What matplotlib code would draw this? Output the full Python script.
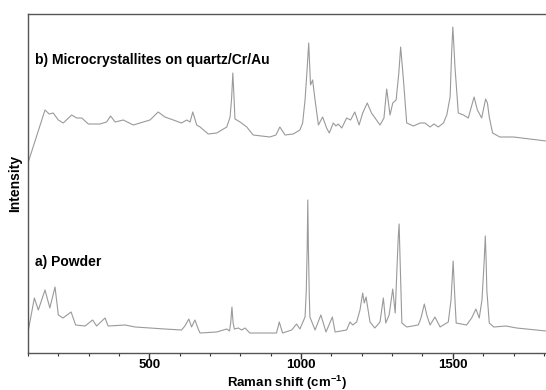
import matplotlib
matplotlib.use("Agg")
import matplotlib.pyplot as plt
from matplotlib.ticker import MultipleLocator

plt.rcParams['font.family'] = ['Liberation Sans', 'DejaVu Sans']
plt.rcParams['mathtext.fontset'] = 'custom'
plt.rcParams['mathtext.bf'] = 'Liberation Sans:bold'
plt.rcParams['mathtext.rm'] = 'Liberation Sans:bold'
plt.rcParams['mathtext.default'] = 'bf'

# a) powder spectrum (Raman shift in cm-1, intensity in arbitrary units)
powder_shift = [100, 121, 134, 156, 172, 189, 200, 215, 242, 257, 288, 313, 326, 354, 364,
                420, 453, 551, 606, 617, 630, 639, 650, 661, 667, 722, 755, 764, 768, 772,
                776, 780, 793, 804, 815, 831, 859, 919, 928, 939, 969, 985, 996, 1013,
                1017, 1020, 1022, 1024, 1027, 1029, 1046, 1065, 1082, 1103, 1112, 1150,
                1161, 1170, 1183, 1194, 1203, 1208, 1214, 1227, 1243, 1260, 1271, 1279,
                1290, 1302, 1310, 1317, 1320, 1323, 1326, 1329, 1332, 1348, 1386, 1395,
                1406, 1415, 1425, 1441, 1458, 1485, 1494, 1498, 1501, 1504, 1507, 1511,
                1545, 1562, 1576, 1587, 1596, 1603, 1607, 1610, 1612, 1620, 1635, 1675,
                1710, 1807]
powder_int = [21, 55, 43, 63, 45, 66, 38, 35, 41, 28, 27, 33, 27, 35, 27,
              28, 26, 24, 23, 27, 34, 26, 33, 24, 20, 21, 24, 22, 30, 46,
              30, 24, 25, 23, 25, 20, 20, 20, 31, 20, 23, 29, 24, 36,
              62, 105, 153, 105, 58, 36, 23, 38, 21, 36, 21, 23,
              31, 28, 31, 43, 60, 50, 56, 31, 25, 31, 55, 30,
              38, 64, 40, 93, 115, 129, 95, 63, 30, 26, 28, 35,
              49, 37, 28, 36, 26, 31, 53, 75, 92, 72, 53, 30,
              28, 35, 44, 35, 53, 90, 117, 90, 63, 30, 26, 27,
              25, 22]

# b) microcrystallites on quartz/Cr/Au
film_shift = [101, 156, 170, 183, 200, 216, 244, 260, 277, 299, 337, 359, 372, 387, 414,
              447, 469, 502, 529, 551, 579, 606, 623, 634, 643, 656, 667, 694, 722, 755,
              766, 771, 775, 779, 782, 799, 821, 842, 897, 917, 930, 947, 974, 996, 1005,
              1013, 1020, 1025, 1031, 1038, 1046, 1057, 1071, 1084, 1093, 1106, 1115,
              1122, 1134, 1150, 1163, 1177, 1191, 1203, 1218, 1232, 1260, 1273, 1282,
              1293, 1302, 1313, 1322, 1328, 1334, 1339, 1348, 1370, 1392, 1408, 1425,
              1438, 1452, 1469, 1480, 1491, 1496, 1500, 1503, 1507, 1518, 1535, 1551,
              1570, 1581, 1595, 1608, 1614, 1620, 1631, 1655, 1700, 1754, 1807]
film_int = [191, 243, 239, 240, 233, 230, 238, 235, 235, 229, 229, 231, 237, 231, 233,
            228, 230, 233, 241, 236, 233, 230, 233, 231, 241, 228, 226, 219, 220, 226,
            236, 255, 280, 255, 234, 231, 226, 218, 216, 218, 226, 218, 219, 223, 230,
            253, 285, 310, 268, 273, 253, 228, 236, 225, 220, 230, 227,
            229, 225, 235, 233, 241, 228, 240, 250, 240, 228, 235, 264,
            238, 250, 253, 280, 306, 285, 266, 230, 227, 230, 230, 226,
            229, 226, 230, 238, 256, 300, 326, 310, 286, 240, 238, 235,
            256, 243, 235, 254, 250, 236, 220, 216, 216, 214, 212]

fig = plt.figure(figsize=(5.46, 3.90), dpi=100)
ax = fig.add_axes([28 / 546, 37 / 390, 518 / 546, 339 / 390])

line_color = '#9a9a9a'
ax.plot(powder_shift, powder_int, color=line_color, lw=0.8)
ax.plot(film_shift, film_int, color=line_color, lw=0.8)

ax.set_xlim(100, 1807)
ax.set_ylim(0, 339)

ax.text(122, 293, 'b) Microcrystallites on quartz/Cr/Au', fontsize=10, fontweight='bold',
        va='center', ha='left')
ax.text(122, 91, 'a) Powder', fontsize=10, fontweight='bold', va='center', ha='left')

ax.xaxis.set_major_locator(MultipleLocator(500))
ax.xaxis.set_minor_locator(MultipleLocator(100))
ax.tick_params(axis='x', which='major', direction='out', length=4, width=1,
               labelsize=9.5, colors='#333333', labelcolor='black', pad=0.5)
ax.tick_params(axis='x', which='minor', direction='out', length=2.5, width=0.8, colors='#333333')
for lbl in ax.get_xticklabels():
    lbl.set_fontweight('bold')
ax.set_yticks([])

for side in ['left', 'bottom', 'top']:
    ax.spines[side].set_color('#555555')
    ax.spines[side].set_linewidth(1.0)
ax.spines['right'].set_visible(False)

# axis titles
fig.text(287 / 546, 3.5 / 390, r'Raman shift (cm$^{-1}$)', fontsize=9.5, fontweight='bold',
         ha='center', va='baseline')
ax.set_ylabel('Intensity', fontsize=10, fontweight='bold', labelpad=4)

fig.savefig('out.png', dpi=100)
